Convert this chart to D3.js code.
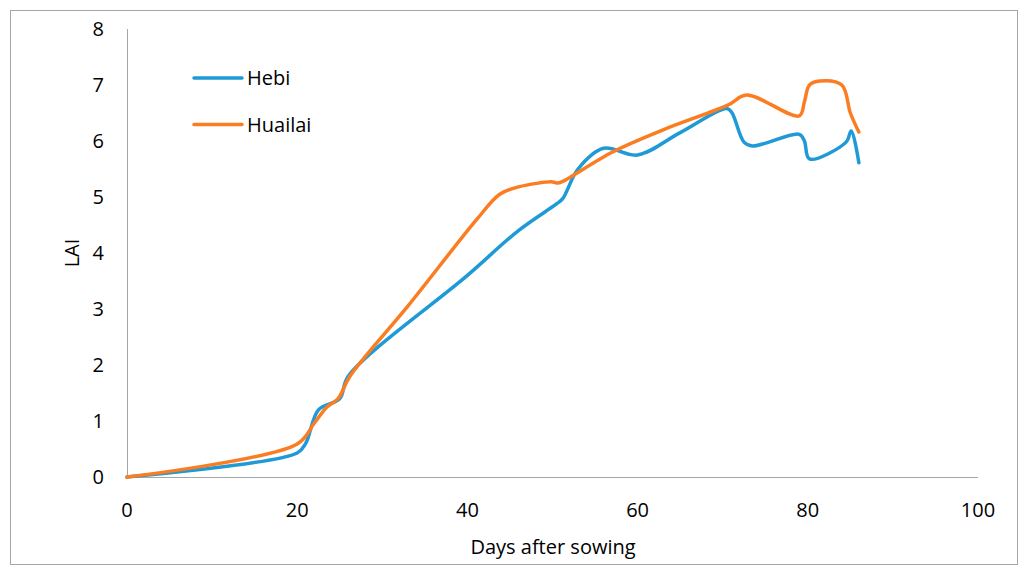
<!DOCTYPE html>
<html><head><meta charset="utf-8">
<script src="https://cdn.jsdelivr.net/npm/d3@7"></script>
<style>body{margin:0;background:#fff}svg{display:block}</style>
</head><body><svg id="c" width="1024" height="576"></svg>
<script>
const seriesNames = ["Hebi", "Huailai"];
const xTicks = [0, 20, 40, 60, 80, 100];
const yTicks = [0, 1, 2, 3, 4, 5, 6, 7, 8];
const hebiDays = [0, 20, 21, 22.5, 25, 26, 40, 46, 50.5, 51.2, 53, 56, 60, 65, 70.5, 71.1, 72.5, 73.5, 79, 79.6, 80.2, 84.5, 85.1, 86];
const hebiLAI  = [0, 0.43, 0.6, 1.2, 1.4, 1.8, 3.6, 4.4, 4.88, 4.97, 5.5, 5.87, 5.75, 6.15, 6.58, 6.5, 5.98, 5.91, 6.12, 6.0, 5.68, 5.98, 6.18, 5.61];
const huaiDays = [0, 20, 22, 23.5, 24.8, 26.2, 33, 41.1, 43.8, 46, 50, 50.6, 51.2, 57, 63, 70.6, 72.8, 79, 79.6, 80.2, 81.4, 84, 85, 86];
const huaiLAI  = [0, 0.59, 0.96, 1.25, 1.4, 1.8, 3.05, 4.6, 5.05, 5.18, 5.27, 5.25, 5.28, 5.8, 6.2, 6.64, 6.82, 6.45, 6.7, 7.0, 7.07, 7.0, 6.5, 6.16];
const colors = ["#1f9ad6", "#fb7d22"];

const svg = d3.select("#c");
const font = "'Open Sans', 'Noto Sans', sans-serif";
svg.append("rect").attr("x",10.5).attr("y",10.5).attr("width",1007).attr("height",554)
  .attr("fill","#fff").attr("stroke","#a6a6a6").attr("stroke-width",1);

const x = d3.scaleLinear().domain([0,100]).range([127,978]);
const y = d3.scaleLinear().domain([0,8]).range([477,29]);

svg.append("line").attr("x1",x(0)).attr("x2",x(100)).attr("y1",y(0)+0.5).attr("y2",y(0)+0.5).attr("stroke","#a6a6a6");
svg.append("line").attr("x1",x(0)+0.5).attr("x2",x(0)+0.5).attr("y1",y(0)).attr("y2",y(8)).attr("stroke","#a6a6a6");

svg.selectAll(".yt").data(yTicks).join("text").attr("x",104).attr("y",d=>y(d)+7)
  .attr("text-anchor","end").attr("font-family",font).attr("font-size",20).attr("fill","#000").text(d=>d);
svg.selectAll(".xt").data(xTicks).join("text").attr("x",d=>x(d)).attr("y",517)
  .attr("text-anchor","middle").attr("font-family",font).attr("font-size",20).attr("fill","#000").text(d=>d);

svg.append("text").attr("transform","translate(79,253) rotate(-90)").attr("text-anchor","middle")
  .attr("font-family",font).attr("font-size",20).text("LAI");
svg.append("text").attr("x",553).attr("y",554).attr("text-anchor","middle")
  .attr("font-family",font).attr("font-size",20).text("Days after sowing");

const line = d3.line().x(d=>x(d[0])).y(d=>y(d[1])).curve(d3.curveCatmullRom.alpha(0.5));
const data = [d3.zip(hebiDays, hebiLAI), d3.zip(huaiDays, huaiLAI)];
data.forEach((pts,i)=>{
  svg.append("path").attr("d",line(pts)).attr("fill","none").attr("stroke",colors[i])
    .attr("stroke-width",3.5).attr("stroke-linejoin","round").attr("stroke-linecap","round");
});

seriesNames.forEach((n,i)=>{
  const ly = 78 + i*46.5;
  svg.append("line").attr("x1",194).attr("x2",242).attr("y1",ly).attr("y2",ly)
    .attr("stroke",colors[i]).attr("stroke-width",3.5).attr("stroke-linecap","round");
  svg.append("text").attr("x",247).attr("y",ly+7).attr("font-family",font).attr("font-size",20).text(n);
});
</script></body></html>
